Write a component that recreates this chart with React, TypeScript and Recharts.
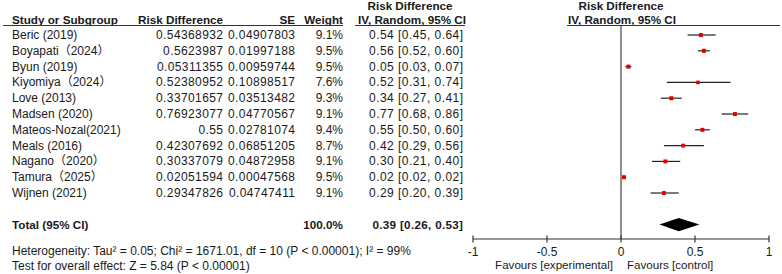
import React from 'react';
import { ComposedChart, Scatter, ErrorBar, XAxis, YAxis, ReferenceLine } from 'recharts';

const FONT = "'Liberation Sans', Arial, 'Noto Sans CJK SC', sans-serif";
const INK = '#1a1a1a';

const studies = [
  'Beric (2019)', 'Boyapati（2024）', 'Byun (2019)', 'Kiyomiya（2024）', 'Love (2013)',
  'Madsen (2020)', 'Mateos-Nozal(2021)', 'Meals (2016)', 'Nagano（2020）', 'Tamura（2025）', 'Wijnen (2021)',
];
const riskDiff = [
  '0.54368932', '0.5623987', '0.05311355', '0.52380952', '0.33701657',
  '0.76923077', '0.55', '0.42307692', '0.30337079', '0.02051594', '0.29347826',
];
const seText = [
  '0.04907803', '0.01997188', '0.00959744', '0.10898517', '0.03513482',
  '0.04770567', '0.02781074', '0.06851205', '0.04872958', '0.00047568', '0.04747411',
];
const weights = [9.1, 9.5, 9.5, 7.6, 9.3, 9.1, 9.4, 8.7, 9.1, 9.5, 9.1];
const estimate = [0.54, 0.56, 0.05, 0.52, 0.34, 0.77, 0.55, 0.42, 0.30, 0.02, 0.29];
const ciLow = [0.45, 0.52, 0.03, 0.31, 0.27, 0.68, 0.50, 0.29, 0.21, 0.02, 0.20];
const ciHigh = [0.64, 0.60, 0.07, 0.74, 0.41, 0.86, 0.60, 0.56, 0.40, 0.02, 0.39];

const total = { est: 0.39, low: 0.26, high: 0.53, row: 12 };
const xTicks = [-1, -0.5, 0, 0.5, 1];

const studyPoints = estimate.map((e, i) => ({
  x: e,
  y: i,
  w: weights[i],
  err: [e - ciLow[i], ciHigh[i] - e],
}));

// diamond outline for the pooled estimate (half height in row units)
const diamondPoints = [
  { x: total.low, y: total.row },
  { x: total.est, y: total.row - 0.42 },
  { x: total.high, y: total.row },
  { x: total.est, y: total.row + 0.42 },
];

const ROW0 = 35;
const ROWH = 15.8;
const rowY = (i: number) => ROW0 + i * ROWH;

function T({ x, y, children, align = 'left', bold = false, size = 12, ls = 0 }: {
  x: number; y: number; children: React.ReactNode; align?: 'left' | 'right' | 'center';
  bold?: boolean; size?: number; ls?: number;
}) {
  const style: React.CSSProperties = {
    position: 'absolute', top: y - 8, height: 16, lineHeight: '16px', fontSize: size,
    letterSpacing: ls, whiteSpace: 'nowrap', fontWeight: bold ? 700 : 400,
  };
  if (align === 'left') style.left = x;
  if (align === 'right') { style.right = 782 - x - ls; style.textAlign = 'right'; }
  if (align === 'center') { style.left = x - 150; style.width = 300; style.textAlign = 'center'; }
  return <div style={style}>{children}</div>;
}

function Square(props: any) {
  const { cx, cy, payload } = props;
  const s = Math.sqrt(payload.w) * 1.3;
  return <rect x={cx - s / 2} y={cy - s / 2} width={s} height={s} fill="#e00000" />;
}

function Tick(props: any) {
  const { x, y, payload } = props;
  return (
    <g>
      <line x1={x} x2={x} y1={y - 3.5} y2={y + 3.5} stroke="#333" strokeWidth={1.2} />
      <text x={x} y={y + 16.5} textAnchor="middle" fill={INK} fontSize={12} fontFamily={FONT}>
        {payload.value}
      </text>
    </g>
  );
}

export default function App() {
  const H = 11.7;
  return (
    <div style={{ position: 'absolute', left: 0, top: 0, width: 782, height: 274, background: '#fff', fontFamily: FONT, fontSize: 12, color: INK }}>
      {/* headers */}
      <T x={410} y={6} align="center" bold size={H}>Risk Difference</T>
      <T x={621} y={6} align="center" bold size={H}>Risk Difference</T>
      <T x={12} y={20} bold size={H}>Study or Subgroup</T>
      <T x={138} y={20} bold size={H}>Risk Difference</T>
      <T x={295} y={20} align="right" bold size={H}>SE</T>
      <T x={343} y={20} align="right" bold size={H}>Weight</T>
      <T x={412} y={20} align="center" bold size={H}>IV, Random, 95% CI</T>
      <T x={622} y={20} align="center" bold size={H}>IV, Random, 95% CI</T>
      <div style={{ position: 'absolute', left: 3, width: 340, top: 25, borderTop: '1.3px solid #333' }} />
      <div style={{ position: 'absolute', left: 355, width: 110, top: 25, borderTop: '1.3px solid #333' }} />
      <div style={{ position: 'absolute', left: 567, width: 213, top: 25, borderTop: '1.3px solid #333' }} />

      {studies.map((s, i) => (
        <React.Fragment key={s}>
          <T x={12} y={rowY(i)}>{s}</T>
          <T x={223} y={rowY(i)} align="right" ls={0.4}>{riskDiff[i]}</T>
          <T x={295} y={rowY(i)} align="right" ls={0.4}>{seText[i]}</T>
          <T x={343} y={rowY(i)} align="right">{weights[i].toFixed(1)}%</T>
          <T x={463} y={rowY(i)} align="right" ls={0.45}>
            {`${estimate[i].toFixed(2)} [${ciLow[i].toFixed(2)}, ${ciHigh[i].toFixed(2)}]`}
          </T>
        </React.Fragment>
      ))}

      <T x={12} y={rowY(total.row)} bold size={H}>Total (95% CI)</T>
      <T x={343} y={rowY(total.row)} align="right" bold size={H}>100.0%</T>
      <T x={463} y={rowY(total.row)} align="right" bold size={H} ls={0.3}>
        {`${total.est.toFixed(2)} [${total.low.toFixed(2)}, ${total.high.toFixed(2)}]`}
      </T>
      <T x={12} y={251}>Heterogeneity: Tau² = 0.05; Chi² = 1671.01, df = 10 (P &lt; 0.00001); I² = 99%</T>
      <T x={12} y={266}>Test for overall effect: Z = 5.84 (P &lt; 0.00001)</T>
      <T x={613} y={265} align="right" size={11.6}>Favours [experimental]</T>
      <T x={627} y={265} size={11.6}>Favours [control]</T>

      <div style={{ position: 'absolute', left: 0, top: 0 }}>
        <ComposedChart width={782} height={274} margin={{ top: 25, right: 13, bottom: 5, left: 473 }}>
          <XAxis
            type="number"
            dataKey="x"
            domain={[-1, 1]}
            ticks={xTicks}
            allowDataOverflow
            height={30}
            axisLine={{ stroke: '#333', strokeWidth: 1.2 }}
            tickLine={false}
            tickSize={0}
            tickMargin={0}
            tick={<Tick />}
            interval={0}
          />
          <YAxis type="number" dataKey="y" domain={[-0.633, 12.91]} reversed hide allowDataOverflow />
          <ReferenceLine x={0} stroke="#444" strokeWidth={1.2} />
          <Scatter data={studyPoints} shape={<Square />} isAnimationActive={false}>
            <ErrorBar dataKey="err" direction="x" width={0} stroke="#222" strokeWidth={1.2} isAnimationActive={false} />
          </Scatter>
          <Scatter
            data={diamondPoints}
            shape={() => <g />}
            line={(p: any) => (
              <polygon points={p.points.map((q: any) => `${q.x},${q.y}`).join(' ')} fill="#000" stroke="none" />
            )}
            lineType="joint"
            isAnimationActive={false}
          />
        </ComposedChart>
      </div>
    </div>
  );
}
